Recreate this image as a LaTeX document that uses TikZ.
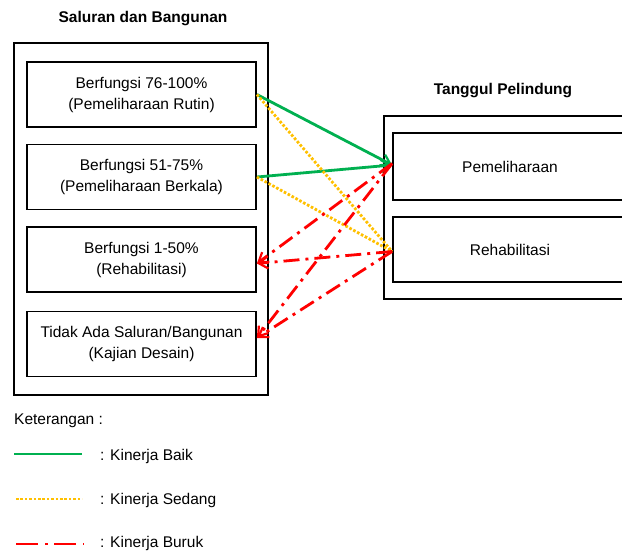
\documentclass[tikz,border=0pt]{standalone}
\usepackage{fontspec}
\setmainfont{Liberation Sans}
\usetikzlibrary{arrows.meta}
\definecolor{baik}{HTML}{00B050}
\definecolor{sedang}{HTML}{FFC000}
\definecolor{buruk}{HTML}{FF0000}
\begin{document}
\begin{tikzpicture}[x=1pt,y=-1pt,
    kotak/.style={draw, line width=1.8pt, inner sep=0pt, align=center,
      font=\fontsize{15.5}{21}\selectfont},
    judul/.style={font=\fontsize{15.5}{18}\selectfont\bfseries},
    ket/.style={anchor=west, inner sep=0pt, font=\fontsize{15.5}{18}\selectfont},
    garisbaik/.style={baik, line width=2.8pt},
    garissedang/.style={sedang, line width=2.8pt, dash pattern=on 2.6pt off 1.8pt},
    garisburuk/.style={buruk, line width=2.8pt, dash pattern=on 16pt off 6pt on 3pt off 6pt},
    panah/.style={-{Straight Barb[length=9pt,width=12pt,line width=2.2pt]}}]
    \useasboundingbox (0,0) rectangle (622,554);
    \clip (0,0) rectangle (622,554);
    % saluran dan bangunan
    \node[judul] (jdlSal) at (143,19) {Saluran dan Bangunan};
    \node[kotak, minimum width=254, minimum height=352] (sal) at (141,219) {};
    \node[kotak, minimum width=229, minimum height=65] (s1) at (141.5,94.5) {Berfungsi 76-100\%\\(Pemeliharaan Rutin)};
    \node[kotak, minimum width=229, minimum height=65] (s2) at (141.5,177) {Berfungsi 51-75\%\\(Pemeliharaan Berkala)};
    \node[kotak, minimum width=229, minimum height=65] (s3) at (141.5,259.5) {Berfungsi 1-50\%\\(Rehabilitasi)};
    \node[kotak, minimum width=229, minimum height=65] (s4) at (141.5,344) {Tidak Ada Saluran/Bangunan\\(Kajian Desain)};
    % tanggul pelindung
    \node[judul] (jdlTgl) at (503,91) {Tanggul Pelindung};
    \node[kotak, minimum width=253, minimum height=183] (tgl) at (510.5,207.5) {};
    \node[kotak, minimum width=234, minimum height=67] (pem) at (510,166.5) {Pemeliharaan};
    \node[kotak, minimum width=234, minimum height=65] (reh) at (510,249.5) {Rehabilitasi};
    % hubungan
    \draw[garisbaik, panah] (s1.east) -- ([yshift=1.5]pem.west);
    \draw[garisbaik, panah] (s2.east) -- ([yshift=1.5]pem.west);
    \draw[garissedang] (s1.east) -- ([yshift=-2]reh.west);
    \draw[garissedang] (s2.east) -- ([yshift=-2]reh.west);
    \draw[garisburuk, panah] ([yshift=3]pem.west) -- ([yshift=-4]s3.east);
    \draw[garisburuk, panah] ([yshift=-2]reh.west) -- ([yshift=-4]s3.east);
    \draw[garisburuk, panah] ([yshift=3]pem.west) -- ([yshift=6]s4.east);
    \draw[garisburuk, panah] ([yshift=-2]reh.west) -- ([yshift=6]s4.east);
    % keterangan
    \node[ket] (ket) at (14,421) {Keterangan :};
    \coordinate (b1) at (14,454);
    \coordinate (b2) at (82,454);
    \draw[garisbaik] (b1) -- (b2);
    \node[ket] (kb) at (100,456) {: Kinerja Baik};
    \coordinate (d1) at (16,499);
    \coordinate (d2) at (82,499);
    \draw[garissedang] (d1) -- (d2);
    \node[ket] (ks) at (100,500) {: Kinerja Sedang};
    \coordinate (r1) at (16,544);
    \coordinate (r2) at (84,544);
    \draw[garisburuk, dash pattern=on 22pt off 7pt on 3pt off 6pt] (r1) -- (r2);
    \node[ket] (kr) at (100,543) {: Kinerja Buruk};
\end{tikzpicture}
\end{document}
